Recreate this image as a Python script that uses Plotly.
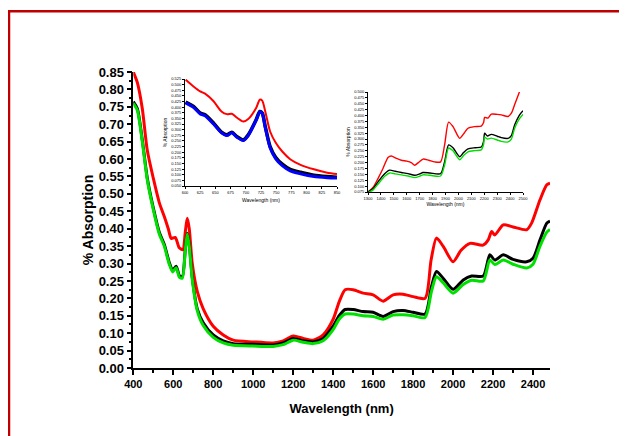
import plotly.graph_objects as go

# page is shown with the browser's default 8px body margin, so the figure is
# laid out 8px smaller and all target pixel positions are shifted by -8.
OFF = 8
W, H = 627 - OFF, 436 - OFF
FONT = "Liberation Sans, Arial, sans-serif"

# ---------------- main spectra ----------------
main_nm_red = [400, 420, 445, 470, 500, 530, 555, 575, 590, 610, 630, 648, 660, 670, 680, 695, 720, 750, 800, 850,
               900, 1000, 1100, 1150, 1200, 1250, 1300, 1350, 1400, 1430, 1460, 1500, 1550, 1600, 1650, 1700, 1750,
               1800, 1860, 1890, 1917, 1950, 2000, 2040, 2085, 2150, 2176, 2193, 2209, 2251, 2300, 2368, 2393, 2435,
               2469, 2485]
main_red = [0.850, 0.820, 0.745, 0.625, 0.545, 0.475, 0.435, 0.400, 0.372, 0.375, 0.345, 0.340, 0.390, 0.430, 0.400,
            0.300, 0.220, 0.170, 0.120, 0.095, 0.080, 0.075, 0.072, 0.078, 0.092, 0.085, 0.080, 0.095, 0.140, 0.190,
            0.225, 0.225, 0.215, 0.210, 0.192, 0.210, 0.212, 0.205, 0.200, 0.310, 0.373, 0.350, 0.305, 0.338, 0.358,
            0.353, 0.368, 0.392, 0.382, 0.411, 0.405, 0.397, 0.416, 0.483, 0.526, 0.531]

main_nm = [400, 420, 445, 470, 500, 530, 555, 580, 597, 614, 631, 645, 660, 670, 680, 695, 720, 750, 800, 850,
           900, 1000, 1100, 1150, 1200, 1250, 1300, 1350, 1400, 1430, 1460, 1500, 1550, 1600, 1650, 1700, 1750,
           1800, 1860, 1892, 1917, 1950, 2000, 2051, 2093, 2151, 2184, 2209, 2251, 2300, 2368, 2400, 2435, 2469, 2485]
main_black = [0.765, 0.745, 0.655, 0.545, 0.460, 0.390, 0.355, 0.303, 0.280, 0.292, 0.265, 0.262, 0.340, 0.387, 0.355,
              0.260, 0.170, 0.130, 0.095, 0.078, 0.070, 0.068, 0.066, 0.072, 0.085, 0.078, 0.075, 0.085, 0.120, 0.150,
              0.168, 0.168, 0.162, 0.160, 0.148, 0.162, 0.165, 0.160, 0.155, 0.234, 0.277, 0.258, 0.226, 0.253, 0.264,
              0.264, 0.325, 0.310, 0.325, 0.312, 0.305, 0.315, 0.368, 0.416, 0.422]
main_green = [0.760, 0.740, 0.650, 0.540, 0.455, 0.385, 0.350, 0.298, 0.276, 0.288, 0.260, 0.258, 0.338, 0.385, 0.350,
              0.255, 0.165, 0.122, 0.088, 0.072, 0.065, 0.063, 0.062, 0.067, 0.080, 0.074, 0.070, 0.078, 0.110, 0.140,
              0.155, 0.155, 0.150, 0.148, 0.140, 0.152, 0.153, 0.150, 0.145, 0.220, 0.262, 0.245, 0.215, 0.240, 0.252,
              0.250, 0.310, 0.297, 0.310, 0.298, 0.287, 0.298, 0.350, 0.390, 0.398]

# ---------------- inset 1 (visible region) ----------------
in1_nm = [601, 614, 625, 633, 647, 660, 669, 677, 685, 696, 704, 717, 723, 727, 732, 740, 749, 760, 773, 790, 812,
          834, 850]
in1_red = [0.522, 0.492, 0.470, 0.460, 0.426, 0.381, 0.369, 0.371, 0.354, 0.336, 0.347, 0.396, 0.433, 0.429, 0.381,
           0.292, 0.243, 0.203, 0.169, 0.144, 0.124, 0.109, 0.103]
in1_black = [0.423, 0.403, 0.374, 0.366, 0.329, 0.289, 0.277, 0.289, 0.270, 0.255, 0.277, 0.344, 0.381, 0.374, 0.314,
             0.225, 0.178, 0.147, 0.124, 0.111, 0.098, 0.092, 0.089]
in1_blue = [0.419, 0.399, 0.370, 0.362, 0.325, 0.286, 0.274, 0.286, 0.267, 0.252, 0.274, 0.342, 0.379, 0.372, 0.310,
            0.220, 0.172, 0.140, 0.117, 0.104, 0.092, 0.087, 0.085]

# ---------------- inset 2 (NIR region) ----------------
in2_nm_red = [1300, 1340, 1377, 1416, 1455, 1480, 1520, 1558, 1600, 1635, 1661, 1690, 1726, 1770, 1816, 1862, 1893,
              1924, 1958, 2010, 2040, 2074, 2126, 2177, 2195, 2203, 2229, 2255, 2300, 2332, 2384, 2410, 2435, 2474,
              2490]
in2_red = [0.075, 0.095, 0.132, 0.175, 0.222, 0.228, 0.218, 0.210, 0.206, 0.200, 0.189, 0.200, 0.215, 0.210, 0.203,
           0.203, 0.275, 0.372, 0.353, 0.303, 0.322, 0.346, 0.353, 0.355, 0.370, 0.392, 0.389, 0.406, 0.405, 0.403,
           0.396, 0.410, 0.446, 0.503, 0.530]
in2_nm = [1300, 1340, 1377, 1429, 1468, 1510, 1558, 1610, 1661, 1700, 1726, 1780, 1862, 1893, 1924, 1958, 2010, 2040,
          2074, 2130, 2177, 2195, 2203, 2224, 2255, 2300, 2332, 2384, 2410, 2435, 2470, 2500]
in2_black = [0.075, 0.090, 0.118, 0.153, 0.168, 0.163, 0.158, 0.153, 0.146, 0.152, 0.158, 0.156, 0.153, 0.203, 0.275,
             0.263, 0.225, 0.243, 0.258, 0.263, 0.266, 0.290, 0.325, 0.313, 0.320, 0.312, 0.306, 0.303, 0.315, 0.360,
             0.400, 0.420]
in2_green = [0.072, 0.084, 0.108, 0.142, 0.156, 0.152, 0.148, 0.143, 0.136, 0.142, 0.148, 0.146, 0.143, 0.190, 0.262,
             0.250, 0.212, 0.230, 0.246, 0.251, 0.254, 0.278, 0.308, 0.300, 0.304, 0.296, 0.290, 0.288, 0.300, 0.345,
             0.385, 0.405]

RED, BLACK, GREEN, BLUE = "#ff0000", "#000000", "#00e000", "#0000ff"


def px_x(a, b):
    return [(a - OFF) / W, (b - OFF) / W]


def px_y(top, bottom):
    return [1 - (bottom - OFF) / H, 1 - (top - OFF) / H]


fig = go.Figure()
sp = dict(mode="lines", line_shape="spline", showlegend=False, hoverinfo="skip")

fig.add_trace(go.Scatter(x=main_nm_red, y=main_red, line=dict(color=RED, width=3, smoothing=0.7), xaxis="x", yaxis="y", **sp))
fig.add_trace(go.Scatter(x=main_nm, y=main_black, line=dict(color=BLACK, width=3, smoothing=0.7), xaxis="x", yaxis="y", **sp))
fig.add_trace(go.Scatter(x=main_nm, y=main_green, line=dict(color=GREEN, width=3, smoothing=0.7), xaxis="x", yaxis="y", **sp))

fig.add_trace(go.Scatter(x=in1_nm, y=in1_red, line=dict(color=RED, width=2, smoothing=0.7), xaxis="x2", yaxis="y2", **sp))
fig.add_trace(go.Scatter(x=in1_nm, y=in1_black, line=dict(color=BLACK, width=3.5, smoothing=0.7), xaxis="x2", yaxis="y2", **sp))
fig.add_trace(go.Scatter(x=in1_nm, y=in1_blue, line=dict(color=BLUE, width=3, smoothing=0.7), xaxis="x2", yaxis="y2", **sp))

fig.add_trace(go.Scatter(x=in2_nm_red, y=in2_red, line=dict(color=RED, width=1.4, smoothing=0.7), xaxis="x3", yaxis="y3", **sp))
fig.add_trace(go.Scatter(x=in2_nm, y=in2_black, line=dict(color=BLACK, width=1.4, smoothing=0.7), xaxis="x3", yaxis="y3", **sp))
fig.add_trace(go.Scatter(x=in2_nm, y=in2_green, line=dict(color=GREEN, width=1.4, smoothing=0.7), xaxis="x3", yaxis="y3", **sp))

common = dict(showgrid=False, zeroline=False, showline=True, linecolor="black", ticks="outside",
              tickcolor="black", mirror=False, tickangle=0, automargin=False)

bold = dict(family=FONT, color="black", weight="bold")
small = dict(size=4, family=FONT, color="black")
stitle = dict(size=5, family=FONT, color="black")
fig.update_layout(
    width=W, height=H,
    margin=dict(l=0, r=0, t=0, b=0, pad=0, autoexpand=False),
    paper_bgcolor="white", plot_bgcolor="rgba(0,0,0,0)",
    showlegend=False,
    xaxis=dict(**common, domain=px_x(133.3, 550), range=[400, 2485], dtick=200, tick0=400,
               linewidth=1.5, ticklen=5, tickwidth=1.5, tickfont=dict(size=11, **bold),
               minor=dict(dtick=100, tick0=400, ticks="outside", ticklen=3, tickcolor="black"),
               title=dict(text="Wavelength (nm)", font=dict(size=13, **bold), standoff=15),
               anchor="y"),
    yaxis=dict(**common, domain=px_y(72, 368), range=[0, 0.85], dtick=0.05, tick0=0, tickformat=".2f",
               linewidth=1.5, ticklen=5, tickwidth=1.5, tickfont=dict(size=13, **bold),
               minor=dict(dtick=0.025, tick0=0, ticks="outside", ticklen=3, tickcolor="black"),
               title=dict(text="% Absorption", font=dict(size=14, **bold), standoff=2),
               anchor="x"),
    xaxis2=dict(**common, domain=px_x(185, 337), range=[600, 850], dtick=25, tick0=600,
                linewidth=1, ticklen=2, tickwidth=0.8, tickfont=small,
                title=dict(text="Wavelength (nm)", font=stitle, standoff=4),
                anchor="y2"),
    yaxis2=dict(**common, domain=px_y(79, 186), range=[0.05, 0.525], dtick=0.025, tick0=0.05, tickformat=".3f",
                linewidth=1, ticklen=2, tickwidth=0.8, tickfont=small,
                title=dict(text="% Absorption", font=stitle, standoff=3),
                anchor="x2"),
    xaxis3=dict(**common, domain=px_x(368, 523), range=[1300, 2500], dtick=100, tick0=1300,
                linewidth=1, ticklen=2, tickwidth=0.8, tickfont=small,
                title=dict(text="Wavelength (nm)", font=stitle, standoff=0),
                anchor="y3"),
    yaxis3=dict(**common, domain=px_y(92, 192), range=[0.075, 0.5], dtick=0.025, tick0=0.075, tickformat=".3f",
                linewidth=1, ticklen=2, tickwidth=0.8, tickfont=small,
                title=dict(text="% Absorption", font=stitle, standoff=3),
                anchor="x3"),
    shapes=[dict(type="rect", xref="paper", yref="paper", x0=(9 - OFF) / W, x1=1.2, y0=-0.2,
                 y1=1 - (11.3 - OFF) / H,
                 line=dict(color="#c00000", width=2.5), fillcolor="rgba(0,0,0,0)", layer="below")],
)

fig.write_html("out.html")
